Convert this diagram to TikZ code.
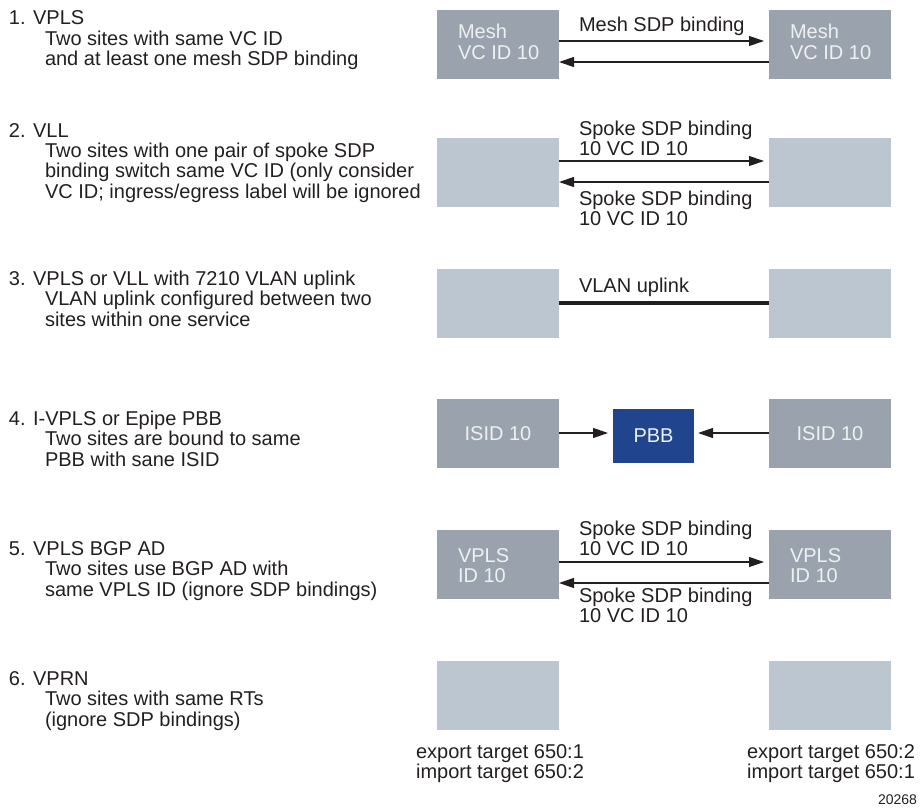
\documentclass[tikz,border=0pt]{standalone}
\usepackage{fontspec}
\setmainfont{Liberation Sans}
\usetikzlibrary{arrows.meta}
\definecolor{darkbox}{HTML}{9AA3AD}
\definecolor{lightbox}{HTML}{BCC6D0}
\definecolor{pbbblue}{HTML}{21448E}
\definecolor{boxtext}{HTML}{EEF0F2}
\definecolor{ink}{HTML}{231F20}
\begin{document}
\begin{tikzpicture}[x=1pt,y=-1pt,
  every node/.style={inner sep=0pt,outer sep=0pt},
  txt/.style={font=\fontsize{20}{20.5}\selectfont,text=ink,align=left,anchor=base west},
  ctxt/.style={font=\fontsize{20}{20.5}\selectfont,text=ink,align=center,anchor=base},
  site/.style={minimum width=122pt,minimum height=69pt},
  dsite/.style={site,fill=darkbox},
  lsite/.style={site,fill=lightbox},
  intxt/.style={font=\fontsize{20}{20.5}\selectfont,text=boxtext,align=left,anchor=base west},
  arr/.style={draw=ink,line width=1.2pt,-{Triangle[length=15pt,width=10pt]}},
]
\useasboundingbox (0,0) rectangle (920,808);

% ---------- left descriptions (multi-line nodes anchored at last baseline) ----------
\node[txt] (t1) at (9,25) {1. VPLS};
\node[txt] (d1) at (45,66) {Two sites with same VC ID\\and at least one mesh SDP binding};
\node[txt] (t2) at (9,137) {2. VLL};
\node[txt] (d2) at (45,198) {Two sites with one pair of spoke SDP\\binding switch same VC ID (only consider\\VC ID; ingress/egress label will be ignored};
\node[txt] (t3) at (9,285) {3. VPLS or VLL with 7210 VLAN uplink};
\node[txt] (d3) at (45,326) {VLAN uplink configured between two\\sites within one service};
\node[txt] (t4) at (9,425) {4. I-VPLS or Epipe PBB};
\node[txt] (d4) at (45,466) {Two sites are bound to same\\PBB with sane ISID};
\node[txt] (t5) at (9,555) {5. VPLS BGP AD};
\node[txt] (d5) at (45,596) {Two sites use BGP AD with\\same VPLS ID (ignore SDP bindings)};
\node[txt] (t6) at (9,685) {6. VPRN};
\node[txt] (d6) at (45,726) {Two sites with same RTs\\(ignore SDP bindings)};

% ---------- row 1 ----------
\node[dsite] (a1) at (498,44.5) {};
\node[dsite] (b1) at (830,44.5) {};
\node[intxt] (a1t) at (458,59.5) {Mesh\\VC ID 10};
\node[intxt] (b1t) at (790,59.5) {Mesh\\VC ID 10};
\draw[arr,shorten >=5pt] (a1.east |- 0,41) -- (b1.west |- 0,41);
\draw[arr] (b1.west |- 0,62) -- (a1.east |- 0,62);
\node[txt] (l1) at (579,32) {Mesh SDP binding};

% ---------- row 2 ----------
\node[lsite] (a2) at (498,172.5) {};
\node[lsite] (b2) at (830,172.5) {};
\draw[arr,shorten >=5pt] (a2.east |- 0,161) -- (b2.west |- 0,161);
\draw[arr] (b2.west |- 0,182) -- (a2.east |- 0,182);
\node[txt] (l2a) at (579,155.5) {Spoke SDP binding\\10 VC ID 10};
\node[txt] (l2b) at (579,225.5) {Spoke SDP binding\\10 VC ID 10};

% ---------- row 3 ----------
\node[lsite] (a3) at (498,303.5) {};
\node[lsite] (b3) at (830,303.5) {};
\draw[draw=ink,line width=3.5pt] (a3.east |- 0,303) -- (b3.west |- 0,303);
\node[txt] (l3) at (579,292) {VLAN uplink};

% ---------- row 4 ----------
\node[dsite,font=\fontsize{20}{20.5}\selectfont,text=boxtext] (a4) at (498,433.5) {ISID 10};
\node[dsite,font=\fontsize{20}{20.5}\selectfont,text=boxtext] (b4) at (830,433.5) {ISID 10};
\node[fill=pbbblue,minimum width=81pt,minimum height=54pt,font=\fontsize{20}{20.5}\selectfont,text=boxtext] (p4) at (653.5,436) {PBB};
\draw[arr,shorten >=5pt] (a4.east |- 0,433) -- (p4.west |- 0,433);
\draw[arr,shorten >=4pt] (b4.west |- 0,433) -- (p4.east |- 0,433);

% ---------- row 5 ----------
\node[dsite] (a5) at (498,564.5) {};
\node[dsite] (b5) at (830,564.5) {};
\node[intxt] (a5t) at (458,582.5) {VPLS\\ID 10};
\node[intxt] (b5t) at (790,582.5) {VPLS\\ID 10};
\draw[arr,shorten >=5pt] (a5.east |- 0,562) -- (b5.west |- 0,562);
\draw[arr] (b5.west |- 0,583) -- (a5.east |- 0,583);
\node[txt] (l5a) at (579,555.5) {Spoke SDP binding\\10 VC ID 10};
\node[txt] (l5b) at (579,622.5) {Spoke SDP binding\\10 VC ID 10};

% ---------- row 6 ----------
\node[lsite] (a6) at (498,695.5) {};
\node[lsite] (b6) at (830,695.5) {};
\node[ctxt] (a6t) at (500,778.5) {export target 650:1\\import target 650:2};
\node[ctxt] (b6t) at (831,778.5) {export target 650:2\\import target 650:1};

\node[font=\fontsize{14}{14}\selectfont,text=ink,anchor=base east] (fig) at (917,804) {20268};
\end{tikzpicture}
\end{document}
